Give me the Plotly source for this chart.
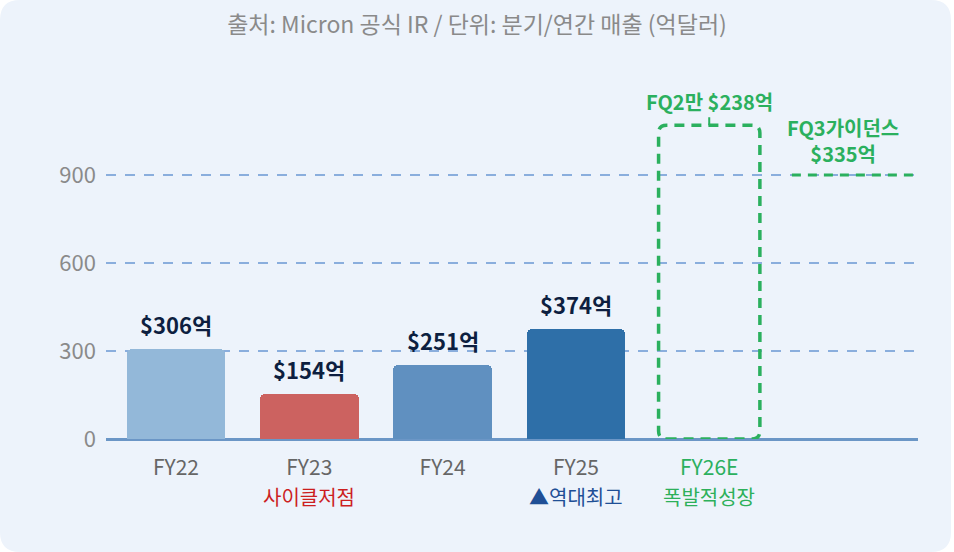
import plotly.graph_objects as go

years = ["FY22", "FY23", "FY24", "FY25"]
revenue = [306, 154, 251, 374]
value_labels = ["$306억", "$154억", "$251억", "$374억"]
bar_colors = ["#93b8d9", "#cc6260", "#6090c0", "#2e6fa8"]

forecast_name = "FY26E"
forecast_box = 1070          # dashed FY26E outline height
fq2_text = "FQ2만 $238억"
fq3_text = "FQ3가이던스<br>$335억"
fq3_level = 900

sub_labels = ["", "사이클저점", "", "▲역대최고", "폭발적성장"]
sub_colors = ["#666", "#cc1f1f", "#666", "#1f4f96", "#2db05a"]

green = "#2bb05e"
font = "Noto Sans CJK KR"

W, H = 954, 552
ML, MR, MT, MB = 106, 36, 70, 113
PW, PH = W - ML - MR, H - MT - MB

xs = list(range(len(years)))
fx = len(years)

fig = go.Figure()
fig.add_trace(go.Bar(
    x=xs, y=revenue,
    marker=dict(color=bar_colors, cornerradius=5, line=dict(width=0)),
    width=0.74, hoverinfo="skip",
))

# FQ3 guidance dashed line on the empty slot
fig.add_trace(go.Scatter(
    x=[fx + 0.62, fx + 1.54], y=[fq3_level, fq3_level], mode="lines",
    line=dict(color=green, width=3, dash="9px,7px"), hoverinfo="skip",
))

# rounded dashed box for FY26E
hw = 0.38
rx, ry = 0.06, 27
x0, x1 = fx - hw, fx + hw
y0, y1 = 0, forecast_box
path = (f"M {x0+rx},{y0} L {x1-rx},{y0} Q {x1},{y0} {x1},{y0+ry} "
        f"L {x1},{y1-ry} Q {x1},{y1} {x1-rx},{y1} L {x0+rx},{y1} "
        f"Q {x0},{y1} {x0},{y1-ry} L {x0},{y0+ry} Q {x0},{y0} {x0+rx},{y0} Z")
fig.add_shape(type="path", path=path, xref="x", yref="y",
              line=dict(color=green, width=3.5, dash="10px,7px"))

# rounded background card (paper coords)
cx0, cx1 = -ML / PW, (W - 3 - ML) / PW
cy0, cy1 = -MB / PH, (H - MB) / PH
crx, cry = 20 / PW, 20 / PH
card = (f"M {cx0+crx},{cy0} L {cx1-crx},{cy0} Q {cx1},{cy0} {cx1},{cy0+cry} "
        f"L {cx1},{cy1-cry} Q {cx1},{cy1} {cx1-crx},{cy1} L {cx0+crx},{cy1} "
        f"Q {cx0},{cy1} {cx0},{cy1-cry} L {cx0},{cy0+cry} Q {cx0},{cy0} {cx0+crx},{cy0} Z")
fig.add_shape(type="path", path=card, xref="paper", yref="paper",
              fillcolor="#edf3fb", line=dict(width=0), layer="below")

for i, t in enumerate(value_labels):
    fig.add_annotation(x=xs[i], y=revenue[i], text=f"<b>{t}</b>", showarrow=False,
                       yanchor="bottom", yshift=7,
                       font=dict(family=font, size=22, color="#0d1f40"))

fig.add_annotation(x=fx, y=forecast_box, text=f"<b>{fq2_text}</b>", showarrow=True,
                   arrowhead=0, arrowwidth=2, arrowcolor=green, ax=0, ay=-24,
                   font=dict(family=font, size=20, color=green))
fig.add_annotation(x=fx + 1, y=fq3_level, text=f"<b>{fq3_text}</b>", showarrow=False,
                   yanchor="bottom", yshift=5,
                   font=dict(family=font, size=20, color=green))

for i, t in enumerate(sub_labels):
    if t:
        fig.add_annotation(x=i, y=0, yref="y", text=t, showarrow=False, yshift=-57,
                           font=dict(family=font, size=20, color=sub_colors[i]))

tick_text = [f"<span style='color:#666'>{y}</span>" for y in years] + \
            [f"<span style='color:{green}'>{forecast_name}</span>"]

fig.update_layout(
    width=W, height=H,
    margin=dict(l=ML, r=MR, t=MT, b=MB),
    paper_bgcolor="white", plot_bgcolor="rgba(0,0,0,0)",
    showlegend=False, bargap=0,
    font=dict(family=font),
    title=dict(text="출처: Micron 공식 IR / 단위: 분기/연간 매출 (억달러)",
               x=0.5, xanchor="center", y=0.955, yanchor="middle",
               font=dict(family=font, size=23, color="#8a8a8a")),
    xaxis=dict(tickvals=xs + [fx], ticktext=tick_text, range=[-0.525, 5.566],
               showgrid=False, zeroline=False, showline=False,
               tickfont=dict(size=21, color="#666"), ticks="", ticklabelstandoff=14,
               fixedrange=True),
    yaxis=dict(range=[0, 1258], tickvals=[0, 300, 600, 900],
               showgrid=True, gridcolor="#8aaedd", gridwidth=2, griddash="10px,9px",
               zeroline=True, zerolinecolor="#6b96c6", zerolinewidth=2.5,
               tickfont=dict(size=22, color="#8a8a8a"), ticklabelstandoff=9,
               fixedrange=True),
)

fig.write_html("out.html", config={"displayModeBar": False},
               post_script="document.body.style.margin='0';")
